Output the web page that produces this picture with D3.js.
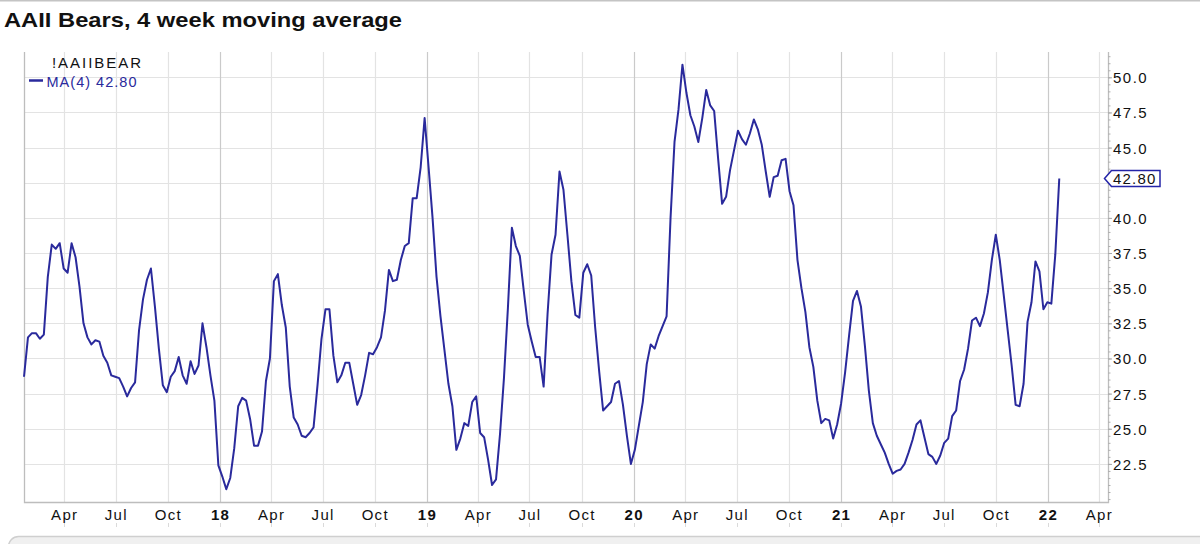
<!DOCTYPE html>
<html>
<head>
<meta charset="utf-8">
<script src="https://cdn.jsdelivr.net/npm/d3@7"></script>
<style>
  html, body { margin: 0; padding: 0; background: #ffffff; }
  svg { display: block; }
  text { font-family: "Liberation Sans", Arial, sans-serif; }
</style>
</head>
<body>
<svg id="chart" width="1200" height="544"></svg>
<script>
// ---------------- DATA ----------------
const chartTitle = "AAII Bears, 4 week moving average";
const symbolName = "!AAIIBEAR";
const seriesName = "MA(4)";
const lastValueLabel = "42.80";
const firstWeek = "2017-01-20";   // weekly readings (one per week)

const bears2017 = [28.7,31.5,31.8,31.8,31.4,31.7,35.8,38.1,37.8,38.2,
                   36.4,36.1,38.2,37.2,35.1,32.5,31.5,31.0,31.3,31.2,
                   30.2,29.7,28.8,28.7,28.6,28.0,27.3,27.9,28.3,32.0,
                   34.2,35.6,36.4,33.7,30.7,28.1,27.6,28.7,29.1,30.1,
                   28.8,28.2,29.8,28.9,29.5,32.5,30.8,28.8,27.0,22.4];
const bears2018 = [21.6,20.7,21.5,23.6,26.6,27.2,27.0,25.7,23.8,23.8,
                   24.8,28.4,30.0,35.5,36.0,33.8,32.2,28.0,25.8,25.3,
                   24.5,24.4,24.7,25.1,28.1,31.4,33.5,33.5,30.2,28.3,
                   28.8,29.7,29.7,28.2,26.7,27.4,28.8,30.4,30.3,30.8,
                   31.5,33.4,36.3,35.5,35.6,37.0,38.0,38.2,41.4,41.4,
                   43.6,47.1];
const bears2019 = [43.6,40.0,35.8,33.0,30.6,28.2,26.6,23.5,24.3,25.4,
                   25.2,26.9,27.3,24.7,24.4,22.8,21.0,21.4,24.6,28.6,
                   33.6,39.3,38.0,37.3,34.8,32.4,31.2,30.1,30.1,28.0,
                   33.2,37.4,38.8,43.3,42.0,38.8,35.5,33.1,32.9,36.1,
                   36.7,35.9,32.2,29.1,26.3,26.6,26.9,28.2,28.4,26.7,
                   24.5,22.5];
const bears2020 = [23.5,25.2,26.9,29.6,31.0,30.7,31.6,32.3,33.0,40.0,
                   45.4,47.7,50.9,48.9,47.3,46.5,45.4,47.1,49.1,48.0,
                   47.6,44.2,41.0,41.5,43.4,44.8,46.2,45.6,45.2,46.0,
                   47.0,46.3,45.2,43.3,41.5,42.9,43.0,44.1,44.2,41.9,
                   40.9,37.0,35.0,33.3,30.8,29.4,27.0,25.4,25.7,25.6,
                   24.3,25.3];
const bears2021 = [26.8,29.0,31.6,34.1,34.8,33.7,30.9,27.7,25.4,24.5,
                   23.9,23.3,22.5,21.8,22.0,22.1,22.5,23.3,24.2,25.3,
                   25.6,24.4,23.2,23.0,22.5,23.1,24.0,24.3,25.9,26.3,
                   28.4,29.2,30.7,32.7,32.9,32.3,33.2,34.7,37.0,38.8,
                   37.0,34.5,32.0,29.5,26.7,26.6,28.2,32.6,34.0,36.9,
                   36.2,33.5,34.0];
const bears2022 = [33.9,37.4,42.8];

const yTicks = [22.5,25.0,27.5,30.0,32.5,35.0,37.5,40.0,42.5,45.0,47.5,50.0];
const yTickLabels = ["22.5","25.0","27.5","30.0","32.5","35.0","37.5","40.0","42.5","45.0","47.5","50.0"];
const xTickDates = ["2017-04-01","2017-07-01","2017-10-01","2018-01-01",
                    "2018-04-01","2018-07-01","2018-10-01","2019-01-01",
                    "2019-04-01","2019-07-01","2019-10-01","2020-01-01",
                    "2020-04-01","2020-07-01","2020-10-01","2021-01-01",
                    "2021-04-01","2021-07-01","2021-10-01","2022-01-01",
                    "2022-04-01"];
const xTickLabels = ["Apr","Jul","Oct","18","Apr","Jul","Oct","19",
                     "Apr","Jul","Oct","20","Apr","Jul","Oct","21",
                     "Apr","Jul","Oct","22","Apr"];

// ---------------- BUILD ----------------
const parse = d3.timeParse("%Y-%m-%d");
const values = [].concat(bears2017, bears2018, bears2019, bears2020, bears2021, bears2022);
const start = parse(firstWeek);
const data = values.map((v, i) => ({ date: d3.timeDay.offset(start, 7 * i), value: v }));
const xTicks = xTickDates.map(parse);

const L = 24, R = 1108, T = 52, B = 502;
const lineColor = "#2a2a9c";

const x = d3.scaleTime()
  .domain([parse("2017-01-20"), parse("2022-04-17")])
  .range([L, R]);
const y = d3.scaleLinear()
  .domain([19.79, 51.80])
  .range([B, T]);

const svg = d3.select("#chart");
const last = data[data.length - 1];
const ly = y(last.value);

// frame top line
svg.append("line").attr("x1", 0).attr("x2", 1200).attr("y1", 0.75).attr("y2", 0.75)
  .attr("stroke", "#c4c4c4").attr("stroke-width", 1.5);

// bottom rounded bar
svg.append("rect").attr("x", 8.5).attr("y", 536.5).attr("width", 1210).attr("height", 30)
  .attr("rx", 10).attr("fill", "#f0f0f0").attr("stroke", "#cfcfcf").attr("stroke-width", 1.5);

// title
svg.append("text").attr("x", 4).attr("y", 26.7)
  .attr("font-family", "'Open Sans', 'Noto Sans', sans-serif")
  .attr("font-weight", "bold").attr("font-size", 21).attr("fill", "#111")
  .attr("textLength", 398).attr("lengthAdjust", "spacingAndGlyphs")
  .text(chartTitle);

// horizontal gridlines
svg.append("g").selectAll("line").data(yTicks).join("line")
  .attr("x1", L).attr("x2", R)
  .attr("y1", d => Math.round(y(d)) + 0.5).attr("y2", d => Math.round(y(d)) + 0.5)
  .attr("stroke", "#e3e3e3").attr("stroke-width", 1.2);

// vertical gridlines
svg.append("g").selectAll("line").data(xTicks).join("line")
  .attr("x1", d => Math.round(x(d)) + 0.5).attr("x2", d => Math.round(x(d)) + 0.5)
  .attr("y1", T).attr("y2", B)
  .attr("stroke", d => d.getMonth() === 0 ? "#cacaca" : "#e3e3e3")
  .attr("stroke-width", 1.2);

// plot border (left, bottom, right)
svg.append("path")
  .attr("d", `M${L + 0.5},${T}V${B + 0.5}H${R + 0.5}V${T}`)
  .attr("fill", "none").attr("stroke", "#bdbdbd").attr("stroke-width", 1.3);

// bottom axis labels
const xAxis = d3.axisBottom(x).tickValues(xTicks)
  .tickFormat((d, i) => xTickLabels[i]).tickSize(0).tickPadding(7.5);
const gx = svg.append("g").attr("transform", `translate(0,${B})`).call(xAxis);
gx.select(".domain").remove();
gx.selectAll("text")
  .attr("font-family", "'Liberation Sans', Arial, sans-serif")
  .attr("font-size", 15).attr("fill", "#111")
  .attr("letter-spacing", "1.3px")
  .attr("font-weight", (d) => d.getMonth() === 0 ? "bold" : "normal");
// faint marks under labels
svg.append("g").selectAll("line").data(xTicks).join("line")
  .attr("x1", d => Math.round(x(d)) + 0.5).attr("x2", d => Math.round(x(d)) + 0.5)
  .attr("y1", 523).attr("y2", 527).attr("stroke", "#dadada").attr("stroke-width", 1);

// right axis: minor ticks
const minorTicks = d3.range(20, 51.6, 0.5);
const gMinor = svg.append("g").attr("transform", `translate(${R},0)`)
  .call(d3.axisRight(y).tickValues(minorTicks).tickSize(2.5).tickFormat(""));
gMinor.select(".domain").remove();
gMinor.selectAll("line").attr("stroke", "#b0b0b0");

// right axis: major ticks and labels (label hidden where the last-value box sits)
const yAxis = d3.axisRight(y).tickValues(yTicks)
  .tickFormat((d, i) => Math.abs(y(d) - ly) < 12 ? "" : yTickLabels[i])
  .tickSize(4).tickPadding(1);
const gy = svg.append("g").attr("transform", `translate(${R},0)`).call(yAxis);
gy.select(".domain").remove();
gy.selectAll("line").attr("stroke", "#a8a8a8");
gy.selectAll("text")
  .attr("font-family", "'Liberation Sans', Arial, sans-serif")
  .attr("font-size", 15).attr("fill", "#111")
  .attr("letter-spacing", "1.5px").attr("dy", "0.36em");

// series line
const line = d3.line().x(d => x(d.date)).y(d => y(d.value));
svg.append("path").datum(data)
  .attr("d", line).attr("fill", "none")
  .attr("stroke", lineColor).attr("stroke-width", 2)
  .attr("stroke-linejoin", "round");

// last value marker on the right axis
svg.append("path")
  .attr("d", `M${R - 3.5},${ly}L${R + 3.5},${ly - 8}H1160V${ly + 8}H${R + 3.5}Z`)
  .attr("fill", "#fff").attr("stroke", "#2424a8").attr("stroke-width", 1.5);
svg.append("text").attr("x", 1113).attr("y", ly + 5.5)
  .attr("font-size", 15).attr("fill", "#111").attr("letter-spacing", "1.2px")
  .text(lastValueLabel);

// legend
svg.append("text").attr("x", 52).attr("y", 68.3)
  .attr("font-size", 15).attr("fill", "#111")
  .attr("textLength", 89).attr("lengthAdjust", "spacing")
  .text(symbolName);
svg.append("line").attr("x1", 29).attr("x2", 43).attr("y1", 80.5).attr("y2", 80.5)
  .attr("stroke", lineColor).attr("stroke-width", 2.5);
svg.append("text").attr("x", 46.5).attr("y", 87)
  .attr("font-size", 14.5).attr("fill", "#2a2a9c")
  .attr("textLength", 90).attr("lengthAdjust", "spacing")
  .text(seriesName + " " + lastValueLabel);
</script>
</body>
</html>
